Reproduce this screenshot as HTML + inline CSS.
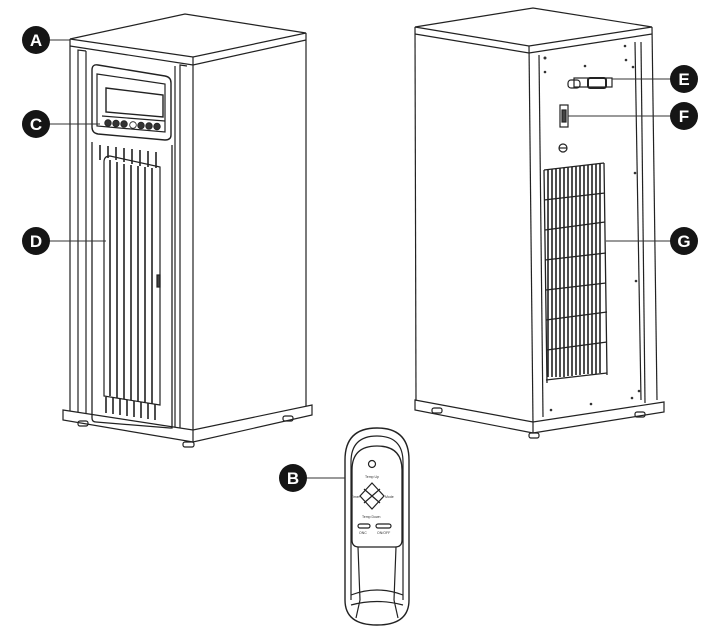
<!DOCTYPE html>
<html><head><style>
html,body{margin:0;padding:0;background:#fff;}
svg{display:block;}
text{font-family:"Liberation Sans",sans-serif;}
</style></head><body>
<svg width="720" height="636" viewBox="0 0 720 636" xmlns="http://www.w3.org/2000/svg" fill="none" stroke="#222" stroke-width="1.2">
<!-- LEFT HEATER -->
<polygon points="70,39 185,14 306,33 193,57" fill="#fff"/>
<polyline points="70,46 193,65 306,40"/>
<line x1="70" y1="39" x2="70" y2="412"/>
<line x1="193" y1="57" x2="193" y2="432"/>
<line x1="306" y1="33" x2="306" y2="407"/>
<!-- base -->
<polygon points="63,410 193,430 312,405 312,415 193,442 63,420" fill="#fff"/>
<line x1="193" y1="430" x2="193" y2="442"/>
<rect x="78" y="421" width="10" height="5" rx="2"/>
<rect x="183" y="442" width="11" height="5" rx="2"/>
<rect x="283" y="416" width="10" height="5" rx="2"/>
<!-- front frame -->
<polyline points="78,412 78,50 86,51"/>
<polyline points="180,428 180,65 187,66"/>
<line x1="86" y1="51" x2="86" y2="414"/>
<line x1="175" y1="66" x2="175" y2="427"/>
<!-- control panel -->
<path d="M92,70 Q92,64 98,65 L165,76 Q171,77 171,83 L171,135 Q171,140 165,140 L98,134 Q92,133 92,127 Z" stroke-width="1.4"/>
<path d="M97,74 L165,84 L165,132 L97,126 Z"/>
<polygon points="106,88 163,95 163,117 106,112" stroke-width="1.4"/>
<line x1="102" y1="116" x2="165" y2="121"/>
<g fill="#333" stroke="#222" stroke-width="0.8">
<circle cx="108" cy="123" r="3.3"/><circle cx="116" cy="123.5" r="3.3"/><circle cx="124" cy="124" r="3.3"/>
<circle cx="133" cy="125" r="3.3" fill="#fff"/><circle cx="141" cy="125.5" r="3.3"/><circle cx="149" cy="126" r="3.3"/><circle cx="157" cy="126.5" r="3.3"/>
</g>
<!-- grille door -->
<path d="M92,142 L92,418 Q92,422 96,422 L170,428 L172,428 L172,145" stroke-width="1.3"/>
<path d="M104,162 Q104,156 110,156 L160,167 L160,405 L104,396 Z" stroke-width="1.2"/>
<g stroke-width="1.6">
<line x1="100" y1="145" x2="100" y2="160"/><line x1="108" y1="146" x2="108" y2="158"/><line x1="116" y1="147" x2="116" y2="160"/>
<line x1="124" y1="148" x2="124" y2="162"/><line x1="132" y1="149" x2="132" y2="164"/><line x1="140" y1="150" x2="140" y2="166"/>
<line x1="148" y1="151" x2="148" y2="167"/><line x1="156" y1="152" x2="156" y2="168"/>
<line x1="110" y1="160" x2="110" y2="396"/><line x1="117" y1="162" x2="117" y2="398"/><line x1="124" y1="164" x2="124" y2="399"/>
<line x1="131" y1="165" x2="131" y2="400"/><line x1="138" y1="166" x2="138" y2="401"/><line x1="145" y1="167" x2="145" y2="402"/><line x1="152" y1="168" x2="152" y2="404"/>
<line x1="106" y1="397" x2="106" y2="413"/><line x1="113" y1="398" x2="113" y2="414"/><line x1="120" y1="399" x2="120" y2="415"/>
<line x1="127" y1="400" x2="127" y2="416"/><line x1="134" y1="401" x2="134" y2="417"/><line x1="141" y1="402" x2="141" y2="418"/>
<line x1="148" y1="403" x2="148" y2="419"/><line x1="155" y1="404" x2="155" y2="420"/>
</g>
<rect x="157" y="275" width="3" height="12" fill="#444"/>

<!-- RIGHT HEATER -->
<polygon points="415,27 533,8 652,27 529,46" fill="#fff"/>
<polyline points="415,34 529,53 652,34"/>
<line x1="415" y1="27" x2="416" y2="402"/>
<line x1="529" y1="46" x2="533" y2="424"/>
<line x1="652" y1="27" x2="657" y2="400"/>
<line x1="641" y1="42" x2="645" y2="403"/>
<polygon points="415,400 533,422 664,402 664,412 533,433 415,410" fill="#fff"/>
<line x1="533" y1="422" x2="533" y2="433"/>
<rect x="432" y="408" width="10" height="5" rx="2"/>
<rect x="529" y="433" width="10" height="5" rx="2"/>
<rect x="635" y="412" width="10" height="5" rx="2"/>
<!-- back panel -->
<line x1="539" y1="55" x2="543" y2="417"/>
<line x1="635" y1="42" x2="641" y2="400"/>
<g fill="#333" stroke="none">
<circle cx="545" cy="58" r="1.5"/><circle cx="585" cy="66" r="1.3"/><circle cx="626" cy="60" r="1.3"/><circle cx="633" cy="67" r="1.3"/><circle cx="625" cy="46" r="1.3"/>
<circle cx="545" cy="72" r="1.3"/><circle cx="635" cy="173" r="1.3"/><circle cx="636" cy="281" r="1.3"/><circle cx="639" cy="391" r="1.3"/><circle cx="632" cy="398" r="1.3"/>
<circle cx="591" cy="404" r="1.3"/><circle cx="551" cy="410" r="1.3"/>
</g>
<!-- connector E -->
<rect x="568" y="80" width="12" height="8" rx="3"/>
<rect x="574" y="78" width="38" height="9"/>
<rect x="588" y="78" width="18" height="10" rx="2" stroke-width="2"/>
<!-- switch F -->
<rect x="560" y="105" width="8" height="22"/>
<rect x="562" y="110" width="4" height="12" fill="#444"/>
<!-- knob -->
<circle cx="563" cy="148" r="4"/><line x1="559" y1="148" x2="567" y2="148"/>
<!-- grille G -->
<g stroke-width="1.3">
<path d="M544,170 L604,163 M544,200 L605,193 M545,230 L605,222 M545,260 L606,253 M546,290 L606,283 M546,320 L607,312 M547,350 L607,342"/>
<path d="M544,170 L547,383 M604,163 L607,375"/>
</g>
<g stroke-width="1.6">
<path d="M548,170v207 M552,169v208 M556,169v208 M560,168v209 M564,168v209 M568,167v209 M572,167v209 M576,166v209 M580,166v209 M584,165v209 M588,165v209 M592,164v210 M596,164v210 M600,163v210"/>
</g>
<line x1="546" y1="380" x2="607" y2="373" stroke-width="1.3"/>

<!-- REMOTE -->
<path d="M345,600 L345,460 Q345,428 377,428 Q409,428 409,460 L409,600 Q409,625 377,625 Q345,625 345,600 Z" stroke-width="1.4"/>
<path d="M351,600 L351,462 Q351,436 377,436 Q403,436 403,462 L403,600"/>
<path d="M352,470 Q352,446 377,446 Q402,446 402,470 L402,540 Q402,547 395,547 L359,547 Q352,547 352,540 Z" stroke-width="1.3"/>
<path d="M358,547 L360,600 M396,547 L394,600"/>
<path d="M351,595 Q377,585 403,595 M360,600 L356,618 M394,600 L398,618 M351,605 Q377,598 403,605"/>
<circle cx="372" cy="464" r="3.5"/>
<polygon points="372,483 384,496 372,509 360,496"/>
<path d="M364,489 L380,503 M380,489 L364,503"/>
<rect x="358" y="524" width="12" height="4" rx="2"/>
<rect x="376" y="524" width="15" height="4" rx="2"/>
<g fill="#333" stroke="none" font-size="3.5" font-family="Liberation Sans,sans-serif">
<text x="365" y="478">Temp Up</text>
<text x="351" y="498">Timer</text>
<text x="385" y="498">Mode</text>
<text x="362" y="518">Temp Down</text>
<text x="359" y="534">ONC</text>
<text x="377" y="534">ON/OFF</text>
</g>

<!-- LEADERS -->
<g stroke="#333" stroke-width="1">
<line x1="36" y1="40" x2="70" y2="40"/>
<line x1="36" y1="124" x2="100" y2="124"/>
<line x1="36" y1="241" x2="106" y2="241"/>
<line x1="293" y1="478" x2="345" y2="478"/>
<line x1="612" y1="79" x2="684" y2="79"/>
<line x1="568" y1="116" x2="684" y2="116"/>
<line x1="606" y1="241" x2="684" y2="241"/>
</g>
<g fill="#151515" stroke="none">
<circle cx="36" cy="40" r="14"/><circle cx="36" cy="124" r="14"/><circle cx="36" cy="241" r="14"/>
<circle cx="293" cy="478" r="14"/><circle cx="684" cy="79" r="14"/><circle cx="684" cy="116" r="14"/><circle cx="684" cy="241" r="14"/>
</g>
<g fill="#fff" stroke="none" font-size="17" font-weight="bold" text-anchor="middle">
<text x="36" y="46">A</text><text x="36" y="130">C</text><text x="36" y="247">D</text>
<text x="293" y="484">B</text><text x="684" y="85">E</text><text x="684" y="122">F</text><text x="684" y="247">G</text>
</g>
</svg>
</body></html>
